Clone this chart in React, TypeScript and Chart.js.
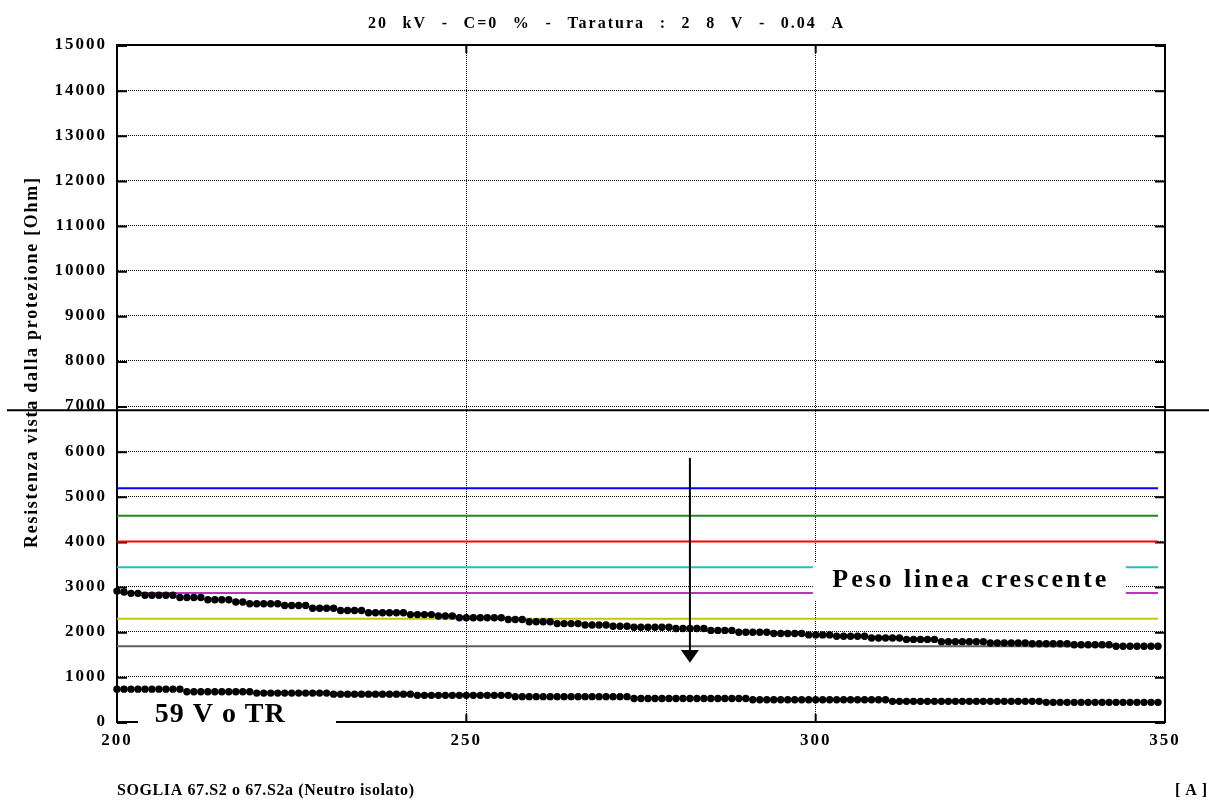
import React, { useEffect, useRef } from 'react';
import { Chart, registerables } from 'chart.js';

Chart.register(...registerables);

// ---------- texts ----------
const TITLE = '20 kV - C=0 % - Taratura : 2 8 V - 0.04 A';
const Y_TITLE = 'Resistenza vista dalla protezione [Ohm]';
const X_TITLE = 'SOGLIA 67.S2 o 67.S2a (Neutro isolato)';
const X_UNIT = '[A]';
const NOTE_WEIGHT = 'Peso linea crescente';
const NOTE_59 = '59 V o TR';

// ---------- axes ----------
const X_MIN = 200;
const X_MAX = 350;
const X_STEP = 50;
const Y_MIN = 0;
const Y_MAX = 15000;
const Y_STEP = 1000;

// ---------- data ----------
// one sample per ampere, starting at 200 A
const FIRST_CURRENT = 200;

// upper dotted curve [Ohm]
const upperSeries = [
  2900, 2880, 2850, 2850, 2810, 2810, 2810, 2810, 2810, 2760,
  2760, 2760, 2760, 2710, 2710, 2710, 2710, 2660, 2660, 2620,
  2620, 2620, 2620, 2620, 2580, 2580, 2580, 2580, 2520, 2520,
  2520, 2520, 2470, 2470, 2470, 2470, 2420, 2420, 2420, 2420,
  2420, 2420, 2380, 2380, 2380, 2380, 2350, 2350, 2350, 2310,
  2310, 2310, 2310, 2310, 2310, 2310, 2270, 2270, 2270, 2220,
  2220, 2220, 2220, 2180, 2180, 2180, 2180, 2150, 2150, 2150,
  2150, 2120, 2120, 2120, 2100, 2100, 2100, 2100, 2100, 2100,
  2070, 2070, 2070, 2070, 2070, 2030, 2030, 2030, 2030, 1990,
  1990, 1990, 1990, 1990, 1960, 1960, 1960, 1960, 1960, 1930,
  1930, 1930, 1930, 1900, 1900, 1900, 1900, 1900, 1860, 1860,
  1860, 1860, 1860, 1830, 1830, 1830, 1830, 1830, 1780, 1780,
  1780, 1780, 1780, 1780, 1780, 1750, 1750, 1750, 1750, 1750,
  1750, 1735, 1735, 1735, 1735, 1735, 1735, 1710, 1710, 1710,
  1710, 1710, 1710, 1680, 1680, 1680, 1680, 1680, 1680, 1680,
];

// lower dotted curve (59 Vo TR) [Ohm]
const lowerSeries = [
  728, 728, 728, 728, 728, 728, 728, 728, 728, 728,
  670, 670, 670, 670, 670, 670, 670, 670, 670, 670,
  640, 640, 640, 640, 640, 640, 640, 640, 640, 640,
  640, 617, 617, 617, 617, 617, 617, 617, 617, 617,
  617, 617, 617, 590, 590, 590, 590, 590, 590, 590,
  590, 590, 590, 590, 590, 590, 590, 562, 562, 562,
  562, 562, 562, 562, 562, 562, 562, 562, 562, 562,
  562, 562, 562, 562, 520, 520, 520, 520, 520, 520,
  520, 520, 520, 520, 520, 520, 520, 520, 520, 520,
  520, 493, 493, 493, 493, 493, 493, 493, 493, 493,
  493, 493, 493, 493, 493, 493, 493, 493, 493, 493,
  493, 458, 458, 458, 458, 458, 458, 458, 458, 458,
  458, 458, 458, 458, 458, 458, 458, 458, 458, 458,
  458, 458, 458, 435, 435, 435, 435, 435, 435, 435,
  435, 435, 435, 435, 435, 435, 435, 435, 435, 435,
];

// horizontal threshold lines [Ohm]
const thresholdLevels = [5180, 4570, 4000, 3430, 2860, 2290, 1680];
const thresholdColors = ['#0000ff', '#1f8a1f', '#ff0000', '#20c0c0', '#c030c0', '#c8c800', '#606060'];
const LEVEL_START = 200;
const LEVEL_END = 349;

// ---------- annotations (data coordinates) ----------
const ARROW = { x: 282, from: 5850, headBase: 1595, tip: 1314 };
const WEIGHT_BOX = { x1: 299.6, x2: 344.4, top: 3545, bottom: 2703 };
const WEIGHT_TEXT = { x: 322, baseline: 2985 };
const NOTE59_BOX = { x1: 203, x2: 231.35, top: 480, bottom: -90 };
const NOTE59_TEXT = { x: 205.4, baseline: 0 };
const CROSS_LINE_VALUE = 6910;

// ---------- style ----------
const SERIF = '"Liberation Serif", "Times New Roman", serif';
const W = 1209;
const H = 800;

// Draw text spanning `width` px: fixed letter spacing, extra room goes to word gaps
// (or to letter gaps when wordGaps is false).
function drawFitted(
  ctx: CanvasRenderingContext2D,
  text: string,
  font: string,
  left: number,
  baseline: number,
  width: number,
  letterGap?: number
) {
  ctx.save();
  ctx.font = font;
  const c = ctx as any;
  c.letterSpacing = '0px';
  c.wordSpacing = '0px';
  const natural = ctx.measureText(text).width;
  if (letterGap === undefined) {
    const gap = text.length > 1 ? Math.max(0, (width - natural) / (text.length - 1)) : 0;
    c.letterSpacing = `${gap}px`;
  } else {
    const spaces = (text.match(/ /g) || []).length;
    const used = natural + letterGap * (text.length - 1);
    const ws = spaces > 0 ? Math.max(0, (width - used) / spaces) : 0;
    c.letterSpacing = `${letterGap}px`;
    c.wordSpacing = `${ws}px`;
  }
  ctx.textAlign = 'left';
  ctx.textBaseline = 'alphabetic';
  ctx.fillStyle = '#000';
  ctx.fillText(text, left, baseline);
  ctx.restore();
}

const decorPlugin = {
  id: 'decor',
  beforeDraw(chart: any) {
    const ctx = chart.ctx;
    ctx.save();
    ctx.fillStyle = '#fff';
    ctx.fillRect(0, 0, chart.width, chart.height);
    ctx.restore();
    (ctx as any).letterSpacing = '2px';
  },
  beforeDatasetsDraw(chart: any) {
    const { ctx, chartArea: a, scales } = chart;
    ctx.save();
    ctx.strokeStyle = '#000';
    ctx.lineWidth = 2;
    ctx.setLineDash([]);
    ctx.strokeRect(a.left, a.top, a.right - a.left, a.bottom - a.top);
    ctx.beginPath();
    scales.y.ticks.forEach((t: any) => {
      const y = scales.y.getPixelForValue(t.value) + 1;
      ctx.moveTo(a.left, y);
      ctx.lineTo(a.left + 10, y);
      ctx.moveTo(a.right - 10, y);
      ctx.lineTo(a.right, y);
    });
    scales.x.ticks.forEach((t: any) => {
      const x = scales.x.getPixelForValue(t.value);
      ctx.moveTo(x, a.top);
      ctx.lineTo(x, a.top + 8);
      ctx.moveTo(x, a.bottom);
      ctx.lineTo(x, a.bottom - 8);
    });
    ctx.stroke();
    ctx.restore();
  },
  afterDatasetsDraw(chart: any) {
    const { ctx, scales } = chart;
    const xs = scales.x;
    const ys = scales.y;
    ctx.save();
    (ctx as any).letterSpacing = '0px';

    // arrow
    const ax = xs.getPixelForValue(ARROW.x);
    const aTop = ys.getPixelForValue(ARROW.from);
    const aBase = ys.getPixelForValue(ARROW.headBase);
    const aTip = ys.getPixelForValue(ARROW.tip);
    ctx.strokeStyle = '#000';
    ctx.lineWidth = 2;
    ctx.beginPath();
    ctx.moveTo(ax, aTop);
    ctx.lineTo(ax, aBase + 1);
    ctx.stroke();
    ctx.fillStyle = '#000';
    ctx.beginPath();
    ctx.moveTo(ax - 9, aBase);
    ctx.lineTo(ax + 9, aBase);
    ctx.lineTo(ax, aTip);
    ctx.closePath();
    ctx.fill();

    // white label boxes
    ctx.fillStyle = '#fff';
    const bx1 = xs.getPixelForValue(WEIGHT_BOX.x1);
    const bx2 = xs.getPixelForValue(WEIGHT_BOX.x2);
    const by1 = ys.getPixelForValue(WEIGHT_BOX.top);
    const by2 = ys.getPixelForValue(WEIGHT_BOX.bottom);
    ctx.fillRect(bx1, by1, bx2 - bx1, by2 - by1);
    const cx1 = xs.getPixelForValue(NOTE59_BOX.x1);
    const cx2 = xs.getPixelForValue(NOTE59_BOX.x2);
    const cy1 = ys.getPixelForValue(NOTE59_BOX.top);
    const cy2 = ys.getPixelForValue(NOTE59_BOX.bottom);
    ctx.fillRect(cx1, cy1, cx2 - cx1, cy2 - cy1);
    ctx.restore();

    const wW = 274;
    drawFitted(
      ctx,
      NOTE_WEIGHT,
      `bold 26px ${SERIF}`,
      xs.getPixelForValue(WEIGHT_TEXT.x) - wW / 2,
      ys.getPixelForValue(WEIGHT_TEXT.baseline),
      wW
    );
    drawFitted(
      ctx,
      NOTE_59,
      `bold 28px ${SERIF}`,
      xs.getPixelForValue(NOTE59_TEXT.x),
      ys.getPixelForValue(NOTE59_TEXT.baseline),
      130
    );
  },
  afterDraw(chart: any) {
    const { ctx, scales } = chart;
    ctx.save();
    (ctx as any).letterSpacing = '0px';
    const cy = scales.y.getPixelForValue(CROSS_LINE_VALUE);
    ctx.strokeStyle = '#000';
    ctx.lineWidth = 2;
    ctx.beginPath();
    ctx.moveTo(7, cy);
    ctx.lineTo(chart.width, cy);
    ctx.stroke();
    ctx.restore();

    drawFitted(ctx, TITLE, `bold 16px ${SERIF}`, 368, 28, 475, 2);
    drawFitted(ctx, X_TITLE, `bold 16px ${SERIF}`, 117, 795, 291, 0.6);
    drawFitted(ctx, X_UNIT, `bold 16px ${SERIF}`, 1175, 795, 32);

    ctx.save();
    ctx.translate(37, 548);
    ctx.rotate(-Math.PI / 2);
    drawFitted(ctx, Y_TITLE, `bold 18px ${SERIF}`, 0, 0, 370);
    ctx.restore();
    (ctx as any).letterSpacing = '0px';
  },
};

export default function App() {
  const canvasRef = useRef<HTMLCanvasElement>(null);

  useEffect(() => {
    const canvas = canvasRef.current;
    if (!canvas) return;
    const currents = upperSeries.map((_, i) => FIRST_CURRENT + i);

    const tickFont = { family: SERIF, size: 17, weight: 'bold' as const };

    const datasets: any[] = [
      {
        label: 'upper',
        data: currents.map((x, i) => ({ x, y: upperSeries[i] })),
        showLine: false,
        pointRadius: 3.7,
        pointBackgroundColor: '#000',
        pointBorderColor: '#000',
        pointBorderWidth: 0,
        clip: false,
        order: 0,
      },
      {
        label: 'lower',
        data: currents.map((x, i) => ({ x, y: lowerSeries[i] })),
        showLine: false,
        pointRadius: 3.7,
        pointBackgroundColor: '#000',
        pointBorderColor: '#000',
        pointBorderWidth: 0,
        clip: false,
        order: 0,
      },
      ...thresholdLevels.map((v, i) => ({
        label: `level ${i}`,
        data: [
          { x: LEVEL_START, y: v },
          { x: LEVEL_END, y: v },
        ],
        borderColor: thresholdColors[i],
        borderWidth: 2,
        pointRadius: 0,
        fill: false,
        clip: false,
        order: 1,
      })),
    ];

    const chart = new Chart(canvas, {
      type: 'line',
      data: { datasets },
      plugins: [decorPlugin],
      options: {
        responsive: false,
        animation: false,
        devicePixelRatio: 1,
        layout: { padding: { left: 0, right: 44, top: 45, bottom: 0 } },
        plugins: {
          legend: { display: false },
          tooltip: { enabled: false },
          title: { display: false },
        },
        scales: {
          x: {
            type: 'linear',
            min: X_MIN,
            max: X_MAX,
            ticks: {
              stepSize: X_STEP,
              color: '#000',
              font: tickFont,
              padding: 8,
              maxRotation: 0,
              callback: (v: any) => String(v),
            },
            grid: { color: '#000', lineWidth: 1, drawTicks: false },
            border: { display: true, color: '#000', width: 2, dash: [1, 1] },
            afterFit: (s: any) => {
              s.height = H - 722;
            },
          },
          y: {
            type: 'linear',
            min: Y_MIN,
            max: Y_MAX,
            ticks: {
              stepSize: Y_STEP,
              color: '#000',
              font: tickFont,
              padding: 10,
              callback: (v: any) => String(v),
            },
            grid: { color: '#000', lineWidth: 1, drawTicks: false },
            border: { display: true, color: '#000', width: 2, dash: [1, 1] },
            afterFit: (s: any) => {
              s.width = 117;
            },
          },
        },
      } as any,
    });

    return () => chart.destroy();
  }, []);

  return (
    <div style={{ position: 'fixed', left: 0, top: 0, width: W, height: H, background: '#fff' }}>
      <canvas ref={canvasRef} width={W} height={H} style={{ width: W, height: H, display: 'block' }} />
    </div>
  );
}
